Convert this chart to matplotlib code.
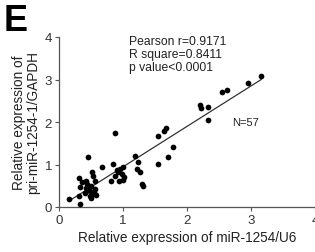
import numpy as np
import matplotlib
matplotlib.use("Agg")
import matplotlib.pyplot as plt

plt.rcParams['font.family'] = ['Liberation Sans', 'DejaVu Sans']

mir_1254 = [0.16, 0.33, 0.31, 0.33, 0.31, 0.45, 0.42, 0.52, 0.53,
            0.45, 0.48, 0.42, 0.55, 0.48, 0.52, 0.40, 0.56, 0.50, 0.46, 0.58,
            0.44, 0.50, 0.36, 0.56, 0.67, 0.88, 0.85, 0.81,
            0.92, 0.96, 1.00, 0.94, 1.00, 1.02, 0.88, 0.98, 0.90,
            1.19, 1.24, 1.22, 1.27, 1.30, 1.31,
            1.55, 1.55, 1.64, 1.67, 1.78, 1.70,
            2.20, 2.22, 2.33, 2.33, 2.55, 2.62, 2.95, 3.16]
pri_mir = [0.19, 0.07, 0.68, 0.47, 0.26, 1.18, 0.61, 0.82, 0.73,
           0.47, 0.38, 0.45, 0.35, 0.27, 0.30, 0.32, 0.42, 0.50, 0.42, 0.28,
           0.55, 0.22, 0.58, 0.61, 0.94, 1.75, 1.02, 0.61,
           0.82, 0.90, 0.95, 0.62, 0.63, 0.70, 0.72, 0.78, 0.86,
           1.19, 1.05, 0.89, 0.82, 0.54, 0.49,
           1.67, 1.01, 1.79, 1.86, 1.41, 1.18,
           2.40, 2.33, 2.36, 2.05, 2.70, 2.75, 2.92, 3.08]

x_ticks = [0, 1, 2, 3, 4]
y_ticks = [0, 1, 2, 3, 4]
stats_lines = ["Pearson r=0.9171", "R square=0.8411", "p value<0.0001"]
n_label = "N=57"

fig = plt.figure(figsize=(3.15, 2.53), dpi=100)
ax = fig.add_axes([59/315, 45/253, 256/315, 170/253])

x = np.array(mir_1254)
y = np.array(pri_mir)
ax.scatter(x, y, s=17, color='black', zorder=3, linewidths=0)
k, b = np.polyfit(x, y, 1)
xl = np.array([x.min(), x.max()])
ax.plot(xl, k * xl + b, color='#333333', lw=0.9)

ax.set_xlim(0, 4)
ax.set_ylim(0, 4)
ax.set_xticks(x_ticks)
ax.set_yticks(y_ticks)
ax.tick_params(labelsize=9.5, length=3, width=0.8, color='#555555', pad=2, labelcolor='#333333')
for s in ['top', 'right']:
    ax.spines[s].set_visible(False)
for s in ['left', 'bottom']:
    ax.spines[s].set_color('#555555')
    ax.spines[s].set_linewidth(0.9)

ax.set_xlabel("Relative expression of miR-1254/U6", fontsize=9.8, color='#222222', labelpad=3)
ax.set_ylabel("Relative expression of\npri-miR-1254-1/GAPDH", fontsize=9.8, color='#222222',
              labelpad=3, linespacing=1.0)

for i, t in enumerate(stats_lines):
    fig.text(129/315, 1 - (42 + i * 13) / 253, t, fontsize=8.7, color='#222222', va='center')
fig.text(232/315, 1 - 123 / 253, n_label, fontsize=8.0, color='#222222', va='center')
fig.text(4/315, 1 - 22/253, "E", fontsize=26, fontweight='bold', va='center')

fig.savefig("out.png", dpi=100)
